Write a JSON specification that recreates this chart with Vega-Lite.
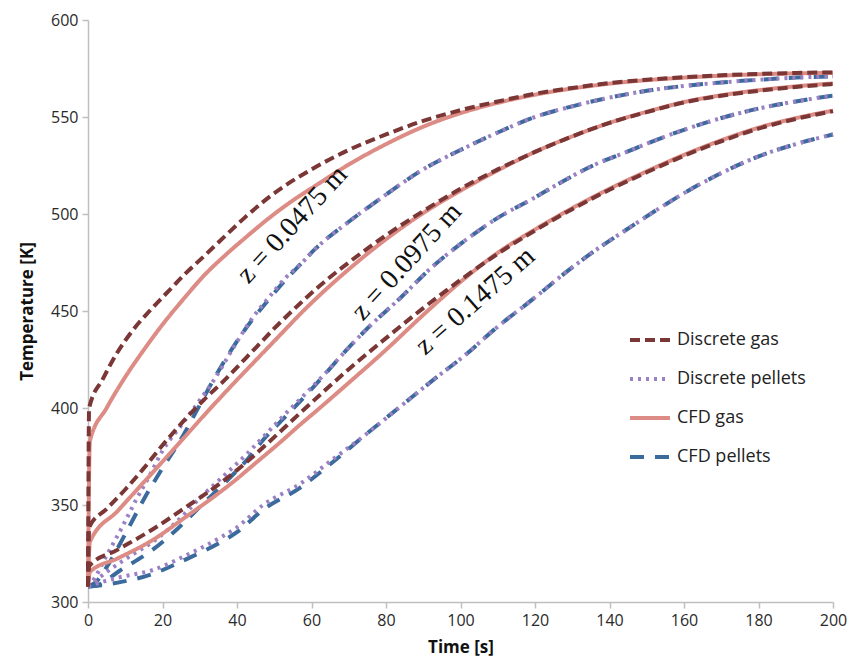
{
"$schema":"https://vega.github.io/schema/vega-lite/v6.json",
"width":745,"height":582,
"autosize":{"type":"none"},
"padding":{"left":88,"top":20,"right":28,"bottom":57},
"background":"white",
"config":{"view":{"stroke":null},
"axis":{"domainColor":"#bfbfbf","domainWidth":1.5,"tickColor":"#bfbfbf","tickWidth":1.5,"tickSize":6,"labelFont":"Open Sans","labelFontSize":16,"labelColor":"#2a2a2a","titleFont":"Open Sans","titleFontSize":17,"titleFontWeight":"bold","titleColor":"#111111","grid":false,"labelFlush":false},
"legend":{"orient":"none","legendX":540,"legendY":298,"symbolType":"stroke","symbolSize":1600,"symbolStrokeWidth":4,"labelFont":"Open Sans","labelFontSize":18,"labelColor":"#222222","labelOffset":5,"rowPadding":8}},
"layer":[
{"data":{"values":[
{"s":"CFD pellets","z":"1","t":0,"T":308},{"s":"CFD pellets","z":"1","t":2,"T":310},{"s":"CFD pellets","z":"1","t":5,"T":318},{"s":"CFD pellets","z":"1","t":10,"T":335},{"s":"CFD pellets","z":"1","t":15,"T":353},{"s":"CFD pellets","z":"1","t":20,"T":369},{"s":"CFD pellets","z":"1","t":25,"T":384},{"s":"CFD pellets","z":"1","t":29,"T":398},{"s":"CFD pellets","z":"1","t":35,"T":419},{"s":"CFD pellets","z":"1","t":42,"T":440},{"s":"CFD pellets","z":"1","t":49,"T":457},{"s":"CFD pellets","z":"1","t":53,"T":466},{"s":"CFD pellets","z":"1","t":57,"T":474},{"s":"CFD pellets","z":"1","t":61,"T":482},{"s":"CFD pellets","z":"1","t":70,"T":496},{"s":"CFD pellets","z":"1","t":80,"T":510},{"s":"CFD pellets","z":"1","t":90,"T":523},{"s":"CFD pellets","z":"1","t":100,"T":533},{"s":"CFD pellets","z":"1","t":110,"T":542},{"s":"CFD pellets","z":"1","t":120,"T":550},{"s":"CFD pellets","z":"1","t":130,"T":555.5},{"s":"CFD pellets","z":"1","t":140,"T":560},{"s":"CFD pellets","z":"1","t":150,"T":563.5},{"s":"CFD pellets","z":"1","t":160,"T":566},{"s":"CFD pellets","z":"1","t":170,"T":567.8},{"s":"CFD pellets","z":"1","t":180,"T":569.2},{"s":"CFD pellets","z":"1","t":190,"T":570.3},{"s":"CFD pellets","z":"1","t":200,"T":571},
{"s":"CFD pellets","z":"2","t":0,"T":308},{"s":"CFD pellets","z":"2","t":3,"T":309},{"s":"CFD pellets","z":"2","t":8.4,"T":316},{"s":"CFD pellets","z":"2","t":17.4,"T":327},{"s":"CFD pellets","z":"2","t":23.6,"T":337},{"s":"CFD pellets","z":"2","t":30.8,"T":350.5},{"s":"CFD pellets","z":"2","t":37,"T":362},{"s":"CFD pellets","z":"2","t":43,"T":374},{"s":"CFD pellets","z":"2","t":47,"T":383.5},{"s":"CFD pellets","z":"2","t":53,"T":395.5},{"s":"CFD pellets","z":"2","t":58.7,"T":407},{"s":"CFD pellets","z":"2","t":64,"T":418.2},{"s":"CFD pellets","z":"2","t":68,"T":427},{"s":"CFD pellets","z":"2","t":75,"T":441},{"s":"CFD pellets","z":"2","t":84,"T":457},{"s":"CFD pellets","z":"2","t":92,"T":472},{"s":"CFD pellets","z":"2","t":101.7,"T":487},{"s":"CFD pellets","z":"2","t":110,"T":498},{"s":"CFD pellets","z":"2","t":119.5,"T":508},{"s":"CFD pellets","z":"2","t":126.7,"T":516},{"s":"CFD pellets","z":"2","t":135,"T":524.5},{"s":"CFD pellets","z":"2","t":144.6,"T":532},{"s":"CFD pellets","z":"2","t":153,"T":538.5},{"s":"CFD pellets","z":"2","t":162.5,"T":545},{"s":"CFD pellets","z":"2","t":171,"T":550},{"s":"CFD pellets","z":"2","t":180.4,"T":554.5},{"s":"CFD pellets","z":"2","t":190,"T":558},{"s":"CFD pellets","z":"2","t":200,"T":561},
{"s":"CFD pellets","z":"3","t":0,"T":308},{"s":"CFD pellets","z":"3","t":3,"T":308.5},{"s":"CFD pellets","z":"3","t":8,"T":310},{"s":"CFD pellets","z":"3","t":17.4,"T":314.5},{"s":"CFD pellets","z":"3","t":26.3,"T":322},{"s":"CFD pellets","z":"3","t":35.3,"T":330.5},{"s":"CFD pellets","z":"3","t":40,"T":336},{"s":"CFD pellets","z":"3","t":47,"T":347.5},{"s":"CFD pellets","z":"3","t":57,"T":359},{"s":"CFD pellets","z":"3","t":65,"T":371},{"s":"CFD pellets","z":"3","t":75,"T":387},{"s":"CFD pellets","z":"3","t":84,"T":401},{"s":"CFD pellets","z":"3","t":92.7,"T":414.5},{"s":"CFD pellets","z":"3","t":101.7,"T":428},{"s":"CFD pellets","z":"3","t":108.8,"T":440},{"s":"CFD pellets","z":"3","t":120,"T":457},{"s":"CFD pellets","z":"3","t":128,"T":469.5},{"s":"CFD pellets","z":"3","t":136,"T":481},{"s":"CFD pellets","z":"3","t":144.6,"T":492},{"s":"CFD pellets","z":"3","t":153,"T":502.5},{"s":"CFD pellets","z":"3","t":162.5,"T":513.5},{"s":"CFD pellets","z":"3","t":171,"T":522},{"s":"CFD pellets","z":"3","t":180.4,"T":530},{"s":"CFD pellets","z":"3","t":190,"T":536},{"s":"CFD pellets","z":"3","t":200,"T":541},
{"s":"Discrete pellets","z":"1","t":0,"T":308},{"s":"Discrete pellets","z":"1","t":2,"T":313},{"s":"Discrete pellets","z":"1","t":5,"T":324},{"s":"Discrete pellets","z":"1","t":9,"T":338},{"s":"Discrete pellets","z":"1","t":13,"T":353},{"s":"Discrete pellets","z":"1","t":16.5,"T":365},{"s":"Discrete pellets","z":"1","t":20,"T":378},{"s":"Discrete pellets","z":"1","t":25,"T":391},{"s":"Discrete pellets","z":"1","t":30,"T":404},{"s":"Discrete pellets","z":"1","t":34,"T":415},{"s":"Discrete pellets","z":"1","t":39,"T":431},{"s":"Discrete pellets","z":"1","t":44,"T":446},{"s":"Discrete pellets","z":"1","t":49,"T":458},{"s":"Discrete pellets","z":"1","t":53,"T":467},{"s":"Discrete pellets","z":"1","t":57,"T":474},{"s":"Discrete pellets","z":"1","t":61,"T":482},{"s":"Discrete pellets","z":"1","t":70,"T":496},{"s":"Discrete pellets","z":"1","t":80,"T":510},{"s":"Discrete pellets","z":"1","t":90,"T":523},{"s":"Discrete pellets","z":"1","t":100,"T":533},{"s":"Discrete pellets","z":"1","t":110,"T":542},{"s":"Discrete pellets","z":"1","t":120,"T":550},{"s":"Discrete pellets","z":"1","t":130,"T":555.5},{"s":"Discrete pellets","z":"1","t":140,"T":560},{"s":"Discrete pellets","z":"1","t":150,"T":563.5},{"s":"Discrete pellets","z":"1","t":160,"T":566},{"s":"Discrete pellets","z":"1","t":170,"T":567.8},{"s":"Discrete pellets","z":"1","t":180,"T":569.2},{"s":"Discrete pellets","z":"1","t":190,"T":570.3},{"s":"Discrete pellets","z":"1","t":200,"T":571},
{"s":"Discrete pellets","z":"2","t":0,"T":308},{"s":"Discrete pellets","z":"2","t":2,"T":311},{"s":"Discrete pellets","z":"2","t":5,"T":315.5},{"s":"Discrete pellets","z":"2","t":8.4,"T":320},{"s":"Discrete pellets","z":"2","t":12,"T":324.5},{"s":"Discrete pellets","z":"2","t":17.4,"T":331},{"s":"Discrete pellets","z":"2","t":23.6,"T":341},{"s":"Discrete pellets","z":"2","t":30.8,"T":355},{"s":"Discrete pellets","z":"2","t":37,"T":366},{"s":"Discrete pellets","z":"2","t":43,"T":377},{"s":"Discrete pellets","z":"2","t":47,"T":385},{"s":"Discrete pellets","z":"2","t":53,"T":397},{"s":"Discrete pellets","z":"2","t":58.7,"T":408},{"s":"Discrete pellets","z":"2","t":64,"T":418.5},{"s":"Discrete pellets","z":"2","t":68,"T":427},{"s":"Discrete pellets","z":"2","t":75,"T":441},{"s":"Discrete pellets","z":"2","t":84,"T":457},{"s":"Discrete pellets","z":"2","t":92,"T":472},{"s":"Discrete pellets","z":"2","t":101.7,"T":487},{"s":"Discrete pellets","z":"2","t":110,"T":498},{"s":"Discrete pellets","z":"2","t":119.5,"T":508},{"s":"Discrete pellets","z":"2","t":126.7,"T":516},{"s":"Discrete pellets","z":"2","t":135,"T":524.5},{"s":"Discrete pellets","z":"2","t":144.6,"T":532},{"s":"Discrete pellets","z":"2","t":153,"T":538.5},{"s":"Discrete pellets","z":"2","t":162.5,"T":545},{"s":"Discrete pellets","z":"2","t":171,"T":550},{"s":"Discrete pellets","z":"2","t":180.4,"T":554.5},{"s":"Discrete pellets","z":"2","t":190,"T":558},{"s":"Discrete pellets","z":"2","t":200,"T":561},
{"s":"Discrete pellets","z":"3","t":0,"T":308},{"s":"Discrete pellets","z":"3","t":2,"T":309.3},{"s":"Discrete pellets","z":"3","t":8.4,"T":312.7},{"s":"Discrete pellets","z":"3","t":17.4,"T":316.5},{"s":"Discrete pellets","z":"3","t":26.3,"T":324},{"s":"Discrete pellets","z":"3","t":35.3,"T":333},{"s":"Discrete pellets","z":"3","t":40,"T":338.5},{"s":"Discrete pellets","z":"3","t":47,"T":350},{"s":"Discrete pellets","z":"3","t":57,"T":361},{"s":"Discrete pellets","z":"3","t":65,"T":372.5},{"s":"Discrete pellets","z":"3","t":75,"T":387},{"s":"Discrete pellets","z":"3","t":84,"T":401},{"s":"Discrete pellets","z":"3","t":92.7,"T":414.5},{"s":"Discrete pellets","z":"3","t":101.7,"T":428},{"s":"Discrete pellets","z":"3","t":108.8,"T":440},{"s":"Discrete pellets","z":"3","t":120,"T":457},{"s":"Discrete pellets","z":"3","t":128,"T":469.5},{"s":"Discrete pellets","z":"3","t":136,"T":481},{"s":"Discrete pellets","z":"3","t":144.6,"T":492},{"s":"Discrete pellets","z":"3","t":153,"T":502.5},{"s":"Discrete pellets","z":"3","t":162.5,"T":513.5},{"s":"Discrete pellets","z":"3","t":171,"T":522},{"s":"Discrete pellets","z":"3","t":180.4,"T":530},{"s":"Discrete pellets","z":"3","t":190,"T":536},{"s":"Discrete pellets","z":"3","t":200,"T":541},
{"s":"CFD gas","z":"1","t":0,"T":308},{"s":"CFD gas","z":"1","t":0.5,"T":383},{"s":"CFD gas","z":"1","t":5,"T":400},{"s":"CFD gas","z":"1","t":10,"T":416},{"s":"CFD gas","z":"1","t":15,"T":430},{"s":"CFD gas","z":"1","t":20,"T":443},{"s":"CFD gas","z":"1","t":26,"T":457},{"s":"CFD gas","z":"1","t":31,"T":468},{"s":"CFD gas","z":"1","t":37,"T":479},{"s":"CFD gas","z":"1","t":43,"T":489},{"s":"CFD gas","z":"1","t":49,"T":498.5},{"s":"CFD gas","z":"1","t":55,"T":507},{"s":"CFD gas","z":"1","t":61,"T":514.5},{"s":"CFD gas","z":"1","t":70,"T":525.5},{"s":"CFD gas","z":"1","t":80,"T":536},{"s":"CFD gas","z":"1","t":90,"T":545},{"s":"CFD gas","z":"1","t":100,"T":552},{"s":"CFD gas","z":"1","t":110,"T":557.3},{"s":"CFD gas","z":"1","t":120,"T":561.5},{"s":"CFD gas","z":"1","t":130,"T":564.7},{"s":"CFD gas","z":"1","t":140,"T":567.2},{"s":"CFD gas","z":"1","t":150,"T":569},{"s":"CFD gas","z":"1","t":160,"T":570.3},{"s":"CFD gas","z":"1","t":170,"T":571.3},{"s":"CFD gas","z":"1","t":180,"T":572},{"s":"CFD gas","z":"1","t":190,"T":572.5},{"s":"CFD gas","z":"1","t":200,"T":572.8},
{"s":"CFD gas","z":"2","t":0,"T":308},{"s":"CFD gas","z":"2","t":0.5,"T":331},{"s":"CFD gas","z":"2","t":8,"T":347},{"s":"CFD gas","z":"2","t":17,"T":366},{"s":"CFD gas","z":"2","t":25,"T":383},{"s":"CFD gas","z":"2","t":32,"T":398},{"s":"CFD gas","z":"2","t":40,"T":414.5},{"s":"CFD gas","z":"2","t":45,"T":424.5},{"s":"CFD gas","z":"2","t":52,"T":438.5},{"s":"CFD gas","z":"2","t":57,"T":448.5},{"s":"CFD gas","z":"2","t":61,"T":456},{"s":"CFD gas","z":"2","t":70,"T":471.5},{"s":"CFD gas","z":"2","t":80,"T":487},{"s":"CFD gas","z":"2","t":90,"T":500.5},{"s":"CFD gas","z":"2","t":100,"T":512},{"s":"CFD gas","z":"2","t":110,"T":522.5},{"s":"CFD gas","z":"2","t":120,"T":532},{"s":"CFD gas","z":"2","t":130,"T":540},{"s":"CFD gas","z":"2","t":140,"T":547},{"s":"CFD gas","z":"2","t":150,"T":552.7},{"s":"CFD gas","z":"2","t":160,"T":557.7},{"s":"CFD gas","z":"2","t":170,"T":561.2},{"s":"CFD gas","z":"2","t":180,"T":563.8},{"s":"CFD gas","z":"2","t":190,"T":565.8},{"s":"CFD gas","z":"2","t":200,"T":567.3},
{"s":"CFD gas","z":"3","t":0,"T":308},{"s":"CFD gas","z":"3","t":0.5,"T":315.5},{"s":"CFD gas","z":"3","t":8,"T":322.5},{"s":"CFD gas","z":"3","t":17.4,"T":332},{"s":"CFD gas","z":"3","t":26,"T":343.5},{"s":"CFD gas","z":"3","t":35,"T":356},{"s":"CFD gas","z":"3","t":40,"T":363.5},{"s":"CFD gas","z":"3","t":44,"T":370},{"s":"CFD gas","z":"3","t":52,"T":383},{"s":"CFD gas","z":"3","t":57,"T":391.5},{"s":"CFD gas","z":"3","t":61,"T":398},{"s":"CFD gas","z":"3","t":70,"T":413},{"s":"CFD gas","z":"3","t":80,"T":430},{"s":"CFD gas","z":"3","t":90,"T":448},{"s":"CFD gas","z":"3","t":100,"T":465},{"s":"CFD gas","z":"3","t":110,"T":480},{"s":"CFD gas","z":"3","t":120,"T":492},{"s":"CFD gas","z":"3","t":130,"T":503},{"s":"CFD gas","z":"3","t":140,"T":513},{"s":"CFD gas","z":"3","t":150,"T":522},{"s":"CFD gas","z":"3","t":160,"T":530.5},{"s":"CFD gas","z":"3","t":170,"T":538},{"s":"CFD gas","z":"3","t":180,"T":544.5},{"s":"CFD gas","z":"3","t":190,"T":549.4},{"s":"CFD gas","z":"3","t":200,"T":553.3},
{"s":"Discrete gas","z":"1","t":0,"T":308},{"s":"Discrete gas","z":"1","t":0.3,"T":400},{"s":"Discrete gas","z":"1","t":4,"T":415},{"s":"Discrete gas","z":"1","t":8,"T":429},{"s":"Discrete gas","z":"1","t":12,"T":440},{"s":"Discrete gas","z":"1","t":17,"T":451},{"s":"Discrete gas","z":"1","t":22,"T":461},{"s":"Discrete gas","z":"1","t":26,"T":469},{"s":"Discrete gas","z":"1","t":31,"T":478},{"s":"Discrete gas","z":"1","t":37,"T":489},{"s":"Discrete gas","z":"1","t":42,"T":498},{"s":"Discrete gas","z":"1","t":47.5,"T":507},{"s":"Discrete gas","z":"1","t":54,"T":516},{"s":"Discrete gas","z":"1","t":60,"T":523},{"s":"Discrete gas","z":"1","t":70,"T":533},{"s":"Discrete gas","z":"1","t":80,"T":541},{"s":"Discrete gas","z":"1","t":90,"T":548},{"s":"Discrete gas","z":"1","t":100,"T":553.5},{"s":"Discrete gas","z":"1","t":110,"T":558},{"s":"Discrete gas","z":"1","t":120,"T":562},{"s":"Discrete gas","z":"1","t":130,"T":565},{"s":"Discrete gas","z":"1","t":140,"T":567.5},{"s":"Discrete gas","z":"1","t":150,"T":569.2},{"s":"Discrete gas","z":"1","t":160,"T":570.5},{"s":"Discrete gas","z":"1","t":170,"T":571.5},{"s":"Discrete gas","z":"1","t":180,"T":572.2},{"s":"Discrete gas","z":"1","t":190,"T":572.7},{"s":"Discrete gas","z":"1","t":200,"T":573},
{"s":"Discrete gas","z":"2","t":0,"T":308},{"s":"Discrete gas","z":"2","t":0.3,"T":338.5},{"s":"Discrete gas","z":"2","t":5,"T":348},{"s":"Discrete gas","z":"2","t":10,"T":358},{"s":"Discrete gas","z":"2","t":15,"T":369},{"s":"Discrete gas","z":"2","t":19,"T":378.5},{"s":"Discrete gas","z":"2","t":26,"T":394},{"s":"Discrete gas","z":"2","t":31,"T":404},{"s":"Discrete gas","z":"2","t":37,"T":415},{"s":"Discrete gas","z":"2","t":41,"T":423},{"s":"Discrete gas","z":"2","t":46,"T":433},{"s":"Discrete gas","z":"2","t":50,"T":441},{"s":"Discrete gas","z":"2","t":57,"T":454},{"s":"Discrete gas","z":"2","t":61,"T":461},{"s":"Discrete gas","z":"2","t":70,"T":475},{"s":"Discrete gas","z":"2","t":80,"T":489},{"s":"Discrete gas","z":"2","t":90,"T":501.5},{"s":"Discrete gas","z":"2","t":100,"T":513},{"s":"Discrete gas","z":"2","t":110,"T":523},{"s":"Discrete gas","z":"2","t":120,"T":532},{"s":"Discrete gas","z":"2","t":130,"T":540},{"s":"Discrete gas","z":"2","t":140,"T":547},{"s":"Discrete gas","z":"2","t":150,"T":552.5},{"s":"Discrete gas","z":"2","t":160,"T":557.5},{"s":"Discrete gas","z":"2","t":170,"T":561},{"s":"Discrete gas","z":"2","t":180,"T":563.5},{"s":"Discrete gas","z":"2","t":190,"T":565.5},{"s":"Discrete gas","z":"2","t":200,"T":567},
{"s":"Discrete gas","z":"3","t":0,"T":308},{"s":"Discrete gas","z":"3","t":0.3,"T":318.5},{"s":"Discrete gas","z":"3","t":8,"T":327},{"s":"Discrete gas","z":"3","t":17.4,"T":337.5},{"s":"Discrete gas","z":"3","t":26,"T":348.5},{"s":"Discrete gas","z":"3","t":35,"T":360.5},{"s":"Discrete gas","z":"3","t":40,"T":368},{"s":"Discrete gas","z":"3","t":44,"T":374.5},{"s":"Discrete gas","z":"3","t":50,"T":385},{"s":"Discrete gas","z":"3","t":57,"T":397.5},{"s":"Discrete gas","z":"3","t":63,"T":408},{"s":"Discrete gas","z":"3","t":70,"T":420},{"s":"Discrete gas","z":"3","t":80,"T":436},{"s":"Discrete gas","z":"3","t":90,"T":451.5},{"s":"Discrete gas","z":"3","t":100,"T":466},{"s":"Discrete gas","z":"3","t":110,"T":479.5},{"s":"Discrete gas","z":"3","t":120,"T":491.5},{"s":"Discrete gas","z":"3","t":130,"T":502.5},{"s":"Discrete gas","z":"3","t":140,"T":512.5},{"s":"Discrete gas","z":"3","t":150,"T":521.5},{"s":"Discrete gas","z":"3","t":160,"T":530},{"s":"Discrete gas","z":"3","t":170,"T":537.5},{"s":"Discrete gas","z":"3","t":180,"T":544},{"s":"Discrete gas","z":"3","t":190,"T":549},{"s":"Discrete gas","z":"3","t":200,"T":553}
]},
"mark":{"type":"line","strokeWidth":4,"interpolate":"monotone","strokeCap":"butt"},
"encoding":{
"x":{"field":"t","type":"quantitative","scale":{"domain":[0,200],"nice":false},"axis":{"title":"Time [s]","values":[0,20,40,60,80,100,120,140,160,180,200],"labelPadding":4,"titlePadding":11}},
"y":{"field":"T","type":"quantitative","scale":{"domain":[300,600],"nice":false,"zero":false},"axis":{"title":"Temperature [K]","values":[300,350,400,450,500,550,600],"labelPadding":4,"titlePadding":14}},
"color":{"field":"s","type":"nominal","title":null,"scale":{"domain":["Discrete gas","Discrete pellets","CFD gas","CFD pellets"],"range":["#7b3636","#9a81c4","#dc8c85","#3b6a9c"]}},
"strokeDash":{"field":"s","type":"nominal","title":null,"scale":{"domain":["Discrete gas","Discrete pellets","CFD gas","CFD pellets"],"range":[[10,5],[3,5],[1,0],[14,11]]}},
"detail":{"field":"z","type":"nominal"}
}},
{"data":{"values":[{"t":54.9,"T":494.4,"label":"z = 0.0475 m"}]},
"mark":{"type":"text","angle":-47.4,"font":"Liberation Serif","fontSize":28,"align":"center","baseline":"middle","color":"#111111"},
"encoding":{"x":{"field":"t","type":"quantitative"},"y":{"field":"T","type":"quantitative"},"text":{"field":"label"}}},
{"data":{"values":[{"t":85.6,"T":475.4,"label":"z = 0.0975 m"}]},
"mark":{"type":"text","angle":-47.5,"font":"Liberation Serif","fontSize":28,"align":"center","baseline":"middle","color":"#111111"},
"encoding":{"x":{"field":"t","type":"quantitative"},"y":{"field":"T","type":"quantitative"},"text":{"field":"label"}}},
{"data":{"values":[{"t":104,"T":455,"label":"z = 0.1475 m"}]},
"mark":{"type":"text","angle":-41.2,"font":"Liberation Serif","fontSize":28,"align":"center","baseline":"middle","color":"#111111"},
"encoding":{"x":{"field":"t","type":"quantitative"},"y":{"field":"T","type":"quantitative"},"text":{"field":"label"}}}
]
}
